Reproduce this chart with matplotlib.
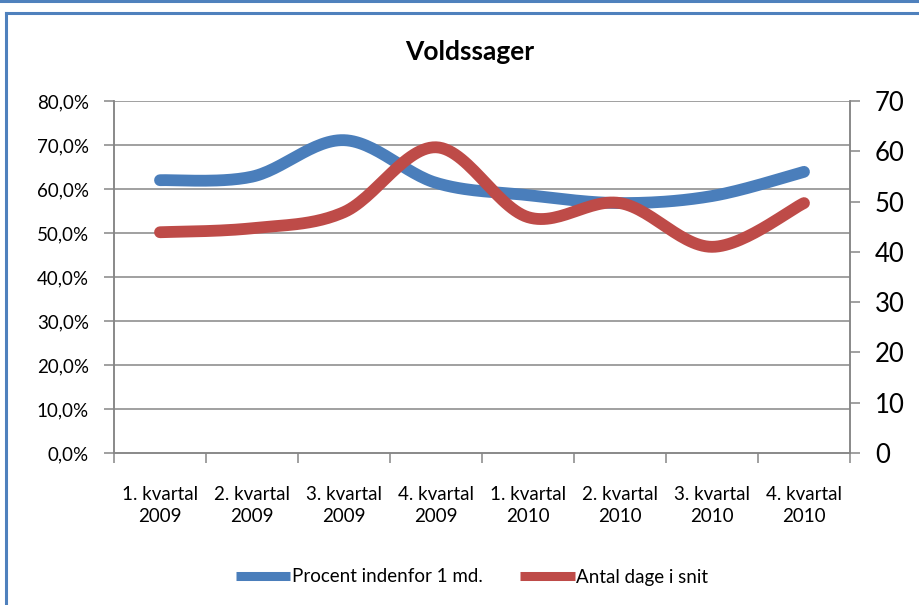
import numpy as np
import matplotlib
matplotlib.use("Agg")
import matplotlib.pyplot as plt
from matplotlib.lines import Line2D

categories = ["1. kvartal\n2009", "2. kvartal\n2009", "3. kvartal\n2009", "4. kvartal\n2009",
              "1. kvartal\n2010", "2. kvartal\n2010", "3. kvartal\n2010", "4. kvartal\n2010"]
procent = [62.0, 62.8, 71.1, 61.4, 58.6, 56.8, 58.4, 63.9]
dage = [43.9, 44.7, 47.9, 60.8, 46.9, 49.7, 41.0, 49.7]
left_ticks = [0, 10, 20, 30, 40, 50, 60, 70, 80]
right_ticks = [0, 10, 20, 30, 40, 50, 60, 70]

plt.rcParams['font.family'] = ['Lato', 'DejaVu Sans']

def smooth(x, y, n=30):
    x = np.asarray(x, float); y = np.asarray(y, float)
    px = np.concatenate([[x[0]], x, [x[-1]]])
    py = np.concatenate([[y[0]], y, [y[-1]]])
    xs, ys = [], []
    t = np.linspace(0, 1, n)
    for i in range(1, len(px) - 2):
        p0 = np.array([px[i], py[i]])
        p3 = np.array([px[i + 1], py[i + 1]])
        c1 = p0 + (np.array([px[i + 1], py[i + 1]]) - np.array([px[i - 1], py[i - 1]])) / 6
        c2 = p3 - (np.array([px[i + 2], py[i + 2]]) - np.array([px[i], py[i]])) / 6
        b = ((1 - t) ** 3)[:, None] * p0 + (3 * (1 - t) ** 2 * t)[:, None] * c1 + \
            (3 * (1 - t) * t ** 2)[:, None] * c2 + (t ** 3)[:, None] * p3
        xs.extend(b[:, 0]); ys.extend(b[:, 1])
    return np.array(xs), np.array(ys)

W, H = 920, 605
fig = plt.figure(figsize=(W / 100, H / 100), dpi=100)
fig.patch.set_facecolor("white")

# borders
border = "#4F81BD"
fig.add_artist(Line2D([0, 1], [1 - 1 / H, 1 - 1 / H], color=border, lw=2.2, transform=fig.transFigure))
fig.add_artist(Line2D([6 / W, 1], [1 - 13 / H, 1 - 13 / H], color=border, lw=2.2, transform=fig.transFigure))
fig.add_artist(Line2D([6 / W, 6 / W], [0, 1 - 13 / H], color=border, lw=2.2, transform=fig.transFigure))

L, R, T, B = 114, 850, 101, 453
ax = fig.add_axes([L / W, 1 - B / H, (R - L) / W, (B - T) / H])
ax2 = ax.twinx()

x = np.arange(len(categories))
bx, by = smooth(x, procent)
rx, ry = smooth(x, dage)

gridc = "#868686"
ax.set_xlim(-0.5, len(categories) - 0.5)
ax.set_ylim(0, 80)
ax2.set_ylim(0, 70)
for v in left_ticks[1:]:
    ax.axhline(v, color=gridc, lw=1.1, zorder=0)

ax.plot(bx, by, color="#4A7EBB", lw=8.5, solid_capstyle="round", zorder=3)
# red series belongs to the right axis (0-70); drawn on the left axes scaled so it sits above blue
ax.set_zorder(ax2.get_zorder() + 1)
ax.patch.set_visible(False)
ax.plot(rx, np.array(ry) * 80 / 70, color="#BE4B48", lw=8.5, solid_capstyle="round", zorder=4)

for a in (ax, ax2):
    a.spines["top"].set_visible(False)
    for s in ["left", "right", "bottom"]:
        a.spines[s].set_color(gridc)
        a.spines[s].set_linewidth(1.1)

ax.set_yticks(left_ticks)
ax.set_yticklabels([f"{v:.1f}%".replace(".", ",") for v in left_ticks], fontsize=13.5)
ax2.set_yticks(right_ticks)
ax2.set_yticklabels([str(v) for v in right_ticks], fontsize=18.5)
ax.set_xticks(np.arange(len(categories) + 1) - 0.5, minor=False)
ax.set_xticklabels([])
ax.set_xticks(x, minor=True)
ax.set_xticklabels(categories, minor=True, fontsize=13.5, linespacing=1.35)
ax.tick_params(axis="x", which="major", length=7, color=gridc, width=1.1, direction="out")
ax.tick_params(axis="x", which="minor", length=0, pad=24)
ax.tick_params(axis="y", length=7, color=gridc, width=1.1, pad=11)
ax2.tick_params(axis="y", length=7, color=gridc, width=1.1, pad=11)

fig.text(470 / W, 1 - 52 / H, "Voldssager", ha="center", va="center", fontsize=19, fontweight="bold")

handles = [Line2D([], [], color="#4A7EBB", lw=6.5, solid_capstyle="butt"),
           Line2D([], [], color="#BE4B48", lw=6.5, solid_capstyle="butt")]
fig.legend(handles, ["Procent indenfor 1 md.", "Antal dage i snit"], loc="center",
           bbox_to_anchor=(472 / W, 1 - 577 / H), ncol=2, frameon=False, fontsize=13.5,
           handlelength=2.9, handletextpad=0.1, columnspacing=2.0)

fig.savefig("out.png", dpi=100)
